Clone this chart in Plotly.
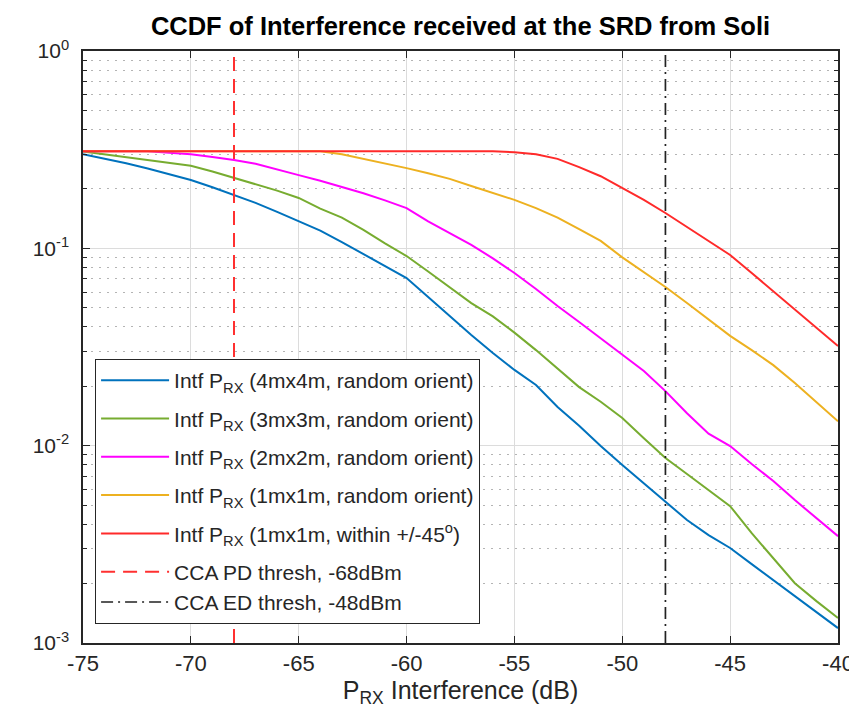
import plotly.graph_objects as go

x_db = list(range(-75, -39))

intf_4x4 = [0.30, 0.285, 0.27, 0.254, 0.238, 0.222, 0.204, 0.186, 0.17, 0.153,
            0.137, 0.123, 0.1076, 0.0936, 0.0813, 0.0707, 0.0567, 0.0454, 0.0364, 0.0295,
            0.0242, 0.0203, 0.0157, 0.0126, 0.00995, 0.00797, 0.00646, 0.00524, 0.0042, 0.00352,
            0.00303, 0.00251, 0.00208, 0.00173, 0.00144, 0.00119]
intf_3x3 = [0.31, 0.30, 0.29, 0.28, 0.27, 0.262, 0.245, 0.227, 0.212, 0.196,
            0.18, 0.159, 0.143, 0.124, 0.106, 0.0914, 0.0763, 0.0637, 0.0528, 0.0452,
            0.0374, 0.0305, 0.0247, 0.0198, 0.0167, 0.0138, 0.0109, 0.00865, 0.00718, 0.00596,
            0.00494, 0.0036, 0.00269, 0.00201, 0.00163, 0.00134]
intf_2x2 = [0.31, 0.31, 0.31, 0.31, 0.305, 0.30, 0.29, 0.28, 0.268, 0.252,
            0.235, 0.22, 0.205, 0.19, 0.175, 0.16, 0.137, 0.119, 0.104, 0.089,
            0.075, 0.0622, 0.051, 0.0423, 0.035, 0.0288, 0.0239, 0.0189, 0.0146, 0.0115,
            0.00995, 0.00807, 0.00662, 0.0053, 0.0043, 0.00348]
intf_1x1 = [0.31, 0.31, 0.31, 0.31, 0.31, 0.31, 0.31, 0.31, 0.31, 0.31,
            0.31, 0.31, 0.30, 0.285, 0.27, 0.255, 0.24, 0.225, 0.207, 0.19,
            0.176, 0.16, 0.143, 0.125, 0.109, 0.09, 0.076, 0.0637, 0.0528, 0.0438,
            0.036, 0.0305, 0.0256, 0.0208, 0.0166, 0.0133]
intf_1x1_45 = [0.31, 0.31, 0.31, 0.31, 0.31, 0.31, 0.31, 0.31, 0.31, 0.31,
               0.31, 0.31, 0.31, 0.31, 0.31, 0.31, 0.31, 0.31, 0.31, 0.31,
               0.307, 0.30, 0.284, 0.258, 0.232, 0.202, 0.176, 0.151, 0.128, 0.109,
               0.0925, 0.075, 0.0607, 0.0492, 0.0394, 0.032]

pd_thresh = -68
ed_thresh = -48
y_range = [1e-3, 1]

names = ["Intf P<sub>RX</sub> (4mx4m, random orient)",
         "Intf P<sub>RX</sub> (3mx3m, random orient)",
         "Intf P<sub>RX</sub> (2mx2m, random orient)",
         "Intf P<sub>RX</sub> (1mx1m, random orient)",
         "Intf P<sub>RX</sub> (1mx1m, within +/-45<sup>o</sup>)"]
pd_name = "CCA PD thresh, -68dBm"
ed_name = "CCA ED thresh, -48dBm"

x_ticks = [-75, -70, -65, -60, -55, -50, -45, -40]
x_ticktext = ["-75", "-70", "-65", "-60", "-55", "-50", "-45", "-40"]
y_ticks = [1e-3, 1e-2, 1e-1, 1]
y_ticktext = ["10<sup>-3</sup>", "10<sup>-2</sup>", "10<sup>-1</sup>", "10<sup>0</sup>"]
y_minor = [m * 10 ** e for e in (-3, -2, -1) for m in range(2, 10)]

colors = ["#0072BD", "#77AC30", "#FF00FF", "#EDB120", "#FF2A2A"]
series = [intf_4x4, intf_3x3, intf_2x2, intf_1x1, intf_1x1_45]

fig = go.Figure()
for i, (ys, nm, c) in enumerate(zip(series, names, colors)):
    fig.add_trace(go.Scatter(x=x_db, y=ys, mode="lines", name=nm,
                             line=dict(color=c, width=2), legendgroup=f"g{i}"))

fig.add_trace(go.Scatter(x=[pd_thresh, pd_thresh], y=y_range, mode="lines", name=pd_name,
                         line=dict(color="#FF3030", width=2, dash="14px,8px"),
                         legendgroup="g5"))
fig.add_trace(go.Scatter(x=[ed_thresh, ed_thresh], y=y_range, mode="lines", name=ed_name,
                         line=dict(color="#222222", width=1.7, dash="12px,5px,2px,5px"),
                         legendgroup="g5"))

fig.update_layout(
    width=857, height=716,
    margin=dict(l=75, r=27, t=43, b=81),
    paper_bgcolor="white", plot_bgcolor="white",
    font=dict(family="Liberation Sans, Arial, sans-serif", color="#262626"),
    title=dict(text="<b>CCDF of Interference received at the SRD from Soli</b>",
               x=0.5, xref="paper", xanchor="center",
               y=1 - 18 / 716, yref="container", yanchor="middle",
               font=dict(size=25.5, color="#000000")),
    showlegend=True,
    legend=dict(x=0.016, y=0.032, xanchor="left", yanchor="bottom",
                bgcolor="white", bordercolor="#262626", borderwidth=1,
                font=dict(size=21, color="#262626"), tracegroupgap=8,
                itemwidth=68),
    xaxis=dict(range=[-75, -40], tickvals=x_ticks, ticktext=x_ticktext,
               ticks="inside", ticklen=7, tickwidth=1, tickcolor="#262626",
               showline=True, linecolor="#262626", linewidth=1.5, mirror="allticks",
               showgrid=True, gridcolor="#DCDCDC", gridwidth=1, zeroline=False,
               tickfont=dict(size=22, color="#262626"),
               title=dict(text="P<sub>RX</sub> Interference (dB)",
                          font=dict(size=25, color="#262626"), standoff=6)),
    yaxis=dict(type="log", range=[-3, 0], tickvals=y_ticks, ticktext=y_ticktext,
               ticks="inside", ticklen=7, tickwidth=1, tickcolor="#262626",
               showline=True, linecolor="#262626", linewidth=1.5, mirror="allticks",
               showgrid=True, gridcolor="#DCDCDC", gridwidth=1, zeroline=False,
               tickfont=dict(size=21, color="#262626"), ticklabelstandoff=8,
               minor=dict(tickvals=y_minor, ticks="inside", ticklen=4,
                          tickcolor="#262626", showgrid=True,
                          gridcolor="#B4B4B4", griddash="2px,6px", gridwidth=1)),
)

fig.write_html("out.html")
